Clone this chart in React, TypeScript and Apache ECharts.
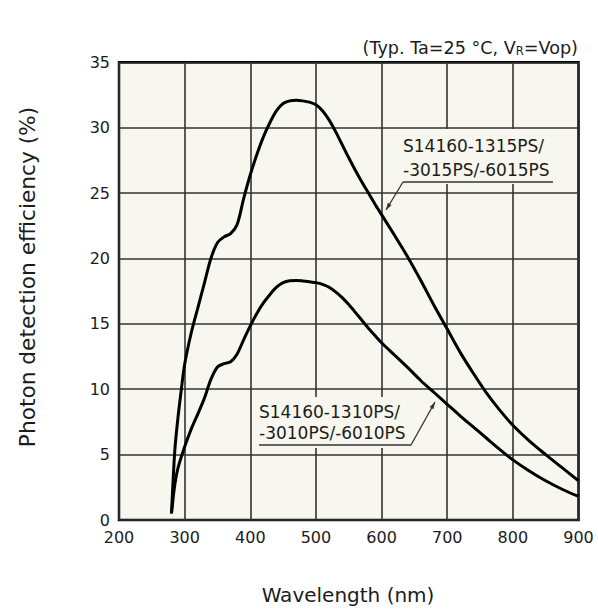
import React, { useEffect, useRef } from "react";
import * as echarts from "echarts";

// Wavelength (nm) and photon detection efficiency (%)
const wl15 = [280, 285, 290, 295, 300, 310, 320, 330, 340, 350, 360, 370, 380, 390, 400, 410, 420, 430, 440, 450, 460, 470, 480, 490, 500, 510, 520, 530, 540, 550, 560, 570, 580, 590, 600, 620, 640, 660, 680, 700, 720, 740, 760, 780, 800, 825, 850, 875, 900];
const pde15 = [0.5, 5.3, 7.9, 10.0, 11.9, 14.3, 16.2, 18.1, 20.0, 21.2, 21.65, 21.9, 22.6, 24.6, 26.4, 27.95, 29.3, 30.4, 31.3, 31.85, 32.05, 32.1, 32.05, 31.95, 31.75, 31.3, 30.6, 29.7, 28.7, 27.7, 26.75, 25.85, 25.0, 24.15, 23.35, 21.75, 20.1, 18.3, 16.4, 14.6, 12.8, 11.2, 9.7, 8.4, 7.25, 6.05, 5.0, 4.0, 3.0];

const wl10 = [280, 285, 290, 300, 310, 320, 330, 340, 350, 360, 370, 380, 390, 400, 410, 420, 430, 440, 450, 460, 470, 480, 490, 500, 510, 520, 530, 540, 550, 560, 570, 580, 590, 600, 620, 640, 660, 680, 700, 720, 740, 760, 780, 800, 825, 850, 875, 900];
const pde10 = [0.5, 2.7, 4.0, 5.6, 6.95, 8.1, 9.3, 10.75, 11.7, 11.95, 12.1, 12.7, 13.8, 14.85, 15.8, 16.6, 17.25, 17.8, 18.15, 18.3, 18.32, 18.28, 18.22, 18.15, 18.02, 17.8, 17.45, 17.0, 16.47, 15.88, 15.27, 14.67, 14.1, 13.55, 12.6, 11.65, 10.65, 9.75, 8.85, 7.95, 7.1, 6.25, 5.4, 4.6, 3.75, 3.0, 2.35, 1.8];

const xMin = 200, xMax = 900, xStep = 100;
const yMin = 0, yMax = 35, yStep = 5;

const label15 = ["S14160-1315PS/", "-3015PS/-6015PS"];
const label10 = ["S14160-1310PS/", "-3010PS/-6010PS"];
const noteMain = "(Typ. Ta=25 °C, V";
const noteSub = "R";
const noteEnd = "=Vop)";
const xName = "Wavelength (nm)";
const yName = "Photon detection efficiency (%)";

const FONT = "DejaVu Sans";
const PLOT_BG = "#f7f6ef";
const TEXT = "#1c1c1c";

function arrowHead(tip: number[], from: number[], len = 7, half = 2.2) {
  const dx = tip[0] - from[0], dy = tip[1] - from[1];
  const l = Math.hypot(dx, dy);
  const ux = dx / l, uy = dy / l;
  const bx = tip[0] - ux * len, by = tip[1] - uy * len;
  return [tip, [bx - uy * half, by + ux * half], [bx + uy * half, by - ux * half]];
}

export default function App() {
  const ref = useRef<HTMLDivElement>(null);
  useEffect(() => {
    if (!ref.current) return;
    const chart = echarts.init(ref.current, undefined, { renderer: "svg" });
    const zip = (xs: number[], ys: number[]) => xs.map((x, i) => [x, ys[i]]);

    const up15Start = [403, 182], up15Tip = [386, 210], up15End = [553, 182];
    const lo10Start = [259, 445], lo10Tip = [435, 402], lo10End = [411, 445];
    const lineStyle = { stroke: "#333", lineWidth: 1.3 };

    const textEl = (t: string, x: number, y: number) => ({
      type: "text", z: 100, x, y,
      style: { text: t, fill: TEXT, font: `17px "${FONT}"`, align: "left", verticalAlign: "middle" },
    });

    chart.setOption({
      animation: false,
      backgroundColor: "#ffffff",
      grid: {
        left: 119, right: 19.5, top: 62.3, bottom: 90,
        show: true, backgroundColor: PLOT_BG, borderColor: "#000", borderWidth: 2.5,
      },
      xAxis: {
        type: "value", min: xMin, max: xMax, interval: xStep,
        axisLine: { show: false }, axisTick: { show: false },
        splitLine: { show: true, lineStyle: { color: "#333", width: 1.6 } },
        axisLabel: { fontFamily: FONT, fontSize: 16, color: TEXT, margin: 9 },
      },
      yAxis: {
        type: "value", min: yMin, max: yMax, interval: yStep,
        axisLine: { show: false }, axisTick: { show: false },
        splitLine: { show: true, lineStyle: { color: "#333", width: 1.6 } },
        axisLabel: { fontFamily: FONT, fontSize: 16, color: TEXT, margin: 9 },
      },
      series: [
        {
          type: "line", name: label15.join(""), data: zip(wl15, pde15), smooth: 0.3,
          showSymbol: false, lineStyle: { color: "#000", width: 3 }, z: 5,
        },
        {
          type: "line", name: label10.join(""), data: zip(wl10, pde10), smooth: 0.3,
          showSymbol: false, lineStyle: { color: "#000", width: 3 }, z: 5,
        },
      ],
      graphic: [
        // upper label
        { type: "rect", z: 99, shape: { x: 400, y: 129, width: 157, height: 55 }, style: { fill: PLOT_BG } },
        textEl(label15[0], 403, 146),
        textEl(label15[1], 403, 169.5),
        { type: "line", z: 100, shape: { x1: up15Start[0], y1: up15Start[1], x2: up15End[0], y2: up15End[1] }, style: lineStyle },
        { type: "line", z: 100, shape: { x1: up15Start[0], y1: up15Start[1], x2: up15Tip[0], y2: up15Tip[1] }, style: lineStyle },
        { type: "polygon", z: 100, shape: { points: arrowHead(up15Tip, up15Start) }, style: { fill: "#333" } },
        // lower label
        { type: "rect", z: 99, shape: { x: 255, y: 397, width: 158, height: 51 }, style: { fill: PLOT_BG } },
        textEl(label10[0], 259, 411.5),
        textEl(label10[1], 259, 433),
        { type: "line", z: 100, shape: { x1: lo10Start[0], y1: lo10Start[1], x2: lo10End[0], y2: lo10End[1] }, style: lineStyle },
        { type: "line", z: 100, shape: { x1: lo10End[0], y1: lo10End[1], x2: lo10Tip[0], y2: lo10Tip[1] }, style: lineStyle },
        { type: "polygon", z: 100, shape: { points: arrowHead(lo10Tip, lo10End) }, style: { fill: "#333" } },
        // condition note
        {
          type: "text", z: 100, x: 578, y: 48,
          style: {
            text: `{a|${noteMain}}{s|${noteSub}}{a|${noteEnd}}`,
            align: "right", verticalAlign: "middle",
            rich: {
              a: { fontFamily: FONT, fontSize: 17.6, fill: TEXT, color: TEXT },
              s: { fontFamily: FONT, fontSize: 11.5, fill: TEXT, color: TEXT, verticalAlign: "bottom", padding: [5, 0, 0, 0] },
            },
          },
        },
        // axis names
        {
          type: "text", z: 100, x: 348, y: 595,
          style: { text: xName, fill: TEXT, font: `20px "${FONT}"`, align: "center", verticalAlign: "middle" },
        },
        {
          type: "text", z: 100, x: 27, y: 277, rotation: Math.PI / 2,
          style: { text: yName, fill: TEXT, font: `21.7px "${FONT}"`, align: "center", verticalAlign: "middle" },
        },
      ],
    });
    return () => chart.dispose();
  }, []);
  return (
    <div
      ref={ref}
      style={{ position: "absolute", left: 0, top: 0, width: 598, height: 610 }}
    />
  );
}
